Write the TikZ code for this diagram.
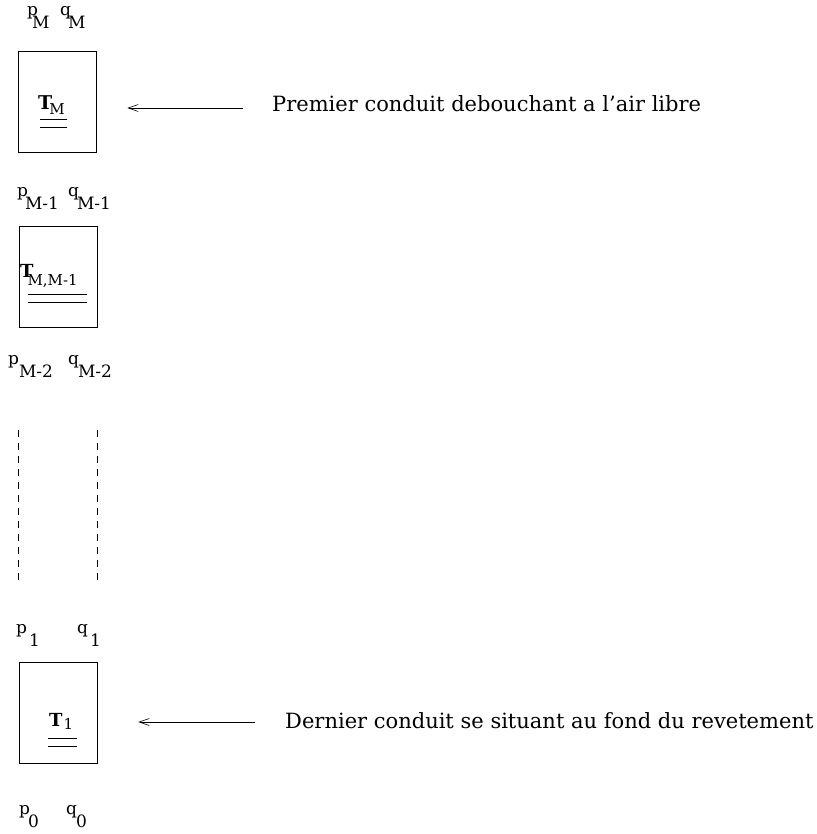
\documentclass[tikz,border=0pt]{standalone}
\usepackage{fontspec}
\setmainfont{DejaVu Serif}
\usetikzlibrary{arrows.meta}
% indice tres bas, comme sur l'original
\newcommand{\idx}[3][-3pt]{#2\kern#1\raisebox{-13pt}{#3}}
\newcommand{\tname}[3]{\textbf{T}\kern#1\raisebox{-#2}{\fontsize{15}{15}\selectfont #3}}

\begin{document}
\begin{tikzpicture}[x=1pt,y=-1pt,
  conduit/.style={draw,line width=0.6pt,minimum width=78pt,minimum height=101pt,inner sep=0pt},
  lab/.style={font=\fontsize{17}{18}\selectfont,inner sep=0pt,anchor=base west},
  tlab/.style={inner sep=0pt,anchor=base west},
  note/.style={font=\fontsize{21}{24}\selectfont,anchor=base west,inner sep=0pt},
  dbl/.style={line width=0.6pt},
  ptr/.style={-{Straight Barb[length=10pt,width=7pt]},line width=0.6pt},
  gap/.style={line width=0.6pt,dash pattern=on 7pt off 6pt}]
\useasboundingbox (0,0) rectangle (816,834);
% conduits
\node[conduit] (CM) at (57,102) {};
\node[conduit] (CMM) at (58,277) {};
\node[conduit] (C1) at (58,713) {};
\node[tlab,font=\fontsize{19}{20}\selectfont] (TM) at (38,110) {\tname{-3pt}{5pt}{M}};
\node[tlab,font=\fontsize{18}{20}\selectfont] (TMM) at (20,277) {\tname{-6pt}{8pt}{M,M-1}};
\node[tlab,font=\fontsize{18}{20}\selectfont] (T1) at (49,726) {\tname{1pt}{3pt}{1}};
\draw[dbl] (40,119) -- (67,119);
\draw[dbl] (40,127) -- (67,127);
\draw[dbl] (28,294) -- (87,294);
\draw[dbl] (28,302) -- (87,302);
\draw[dbl] (48,738) -- (77,738);
\draw[dbl] (48,746) -- (77,746);
% p et q
\node[lab] (pM) at (27,16) {\idx[-6pt]{p}{M}};
\node[lab] (qM) at (60,16) {\idx[-3pt]{q}{M}};
\node[lab] (pM1) at (17,197) {\idx[-3pt]{p}{M-1}};
\node[lab] (qM1) at (68,197) {\idx[-2pt]{q}{M-1}};
\node[lab] (pM2) at (8,364) {\idx[0pt]{p}{M-2}};
\node[lab] (qM2) at (68,364) {\idx[-1pt]{q}{M-2}};
\node[lab] (p1) at (16,633) {\idx[2pt]{p}{1}};
\node[lab] (q1) at (77,633) {\idx[2pt]{q}{1}};
\node[lab] (p0) at (19,814) {\idx[-2pt]{p}{0}};
\node[lab] (q0) at (66,814) {\idx[-1pt]{q}{0}};
% pointilles
\coordinate (dtop) at (0,430);
\coordinate (dbot) at (0,580);
\draw[gap] (CMM.west |- dtop) -- (CMM.west |- dbot);
\draw[gap] (CMM.east |- dtop) -- (CMM.east |- dbot);
% notes
\node[note] (N1) at (272,112) {Premier conduit debouchant a l'air libre};
\node[note] (N2) at (285,728) {Dernier conduit se situant au fond du revetement};
\coordinate (A1) at (243,108);
\coordinate (A2) at (255,722);
\draw[ptr,shorten >=31pt] (A1) -- (A1 -| CM.east);
\draw[ptr,shorten >=41pt] (A2) -- (A2 -| C1.east);
\end{tikzpicture}
\end{document}
